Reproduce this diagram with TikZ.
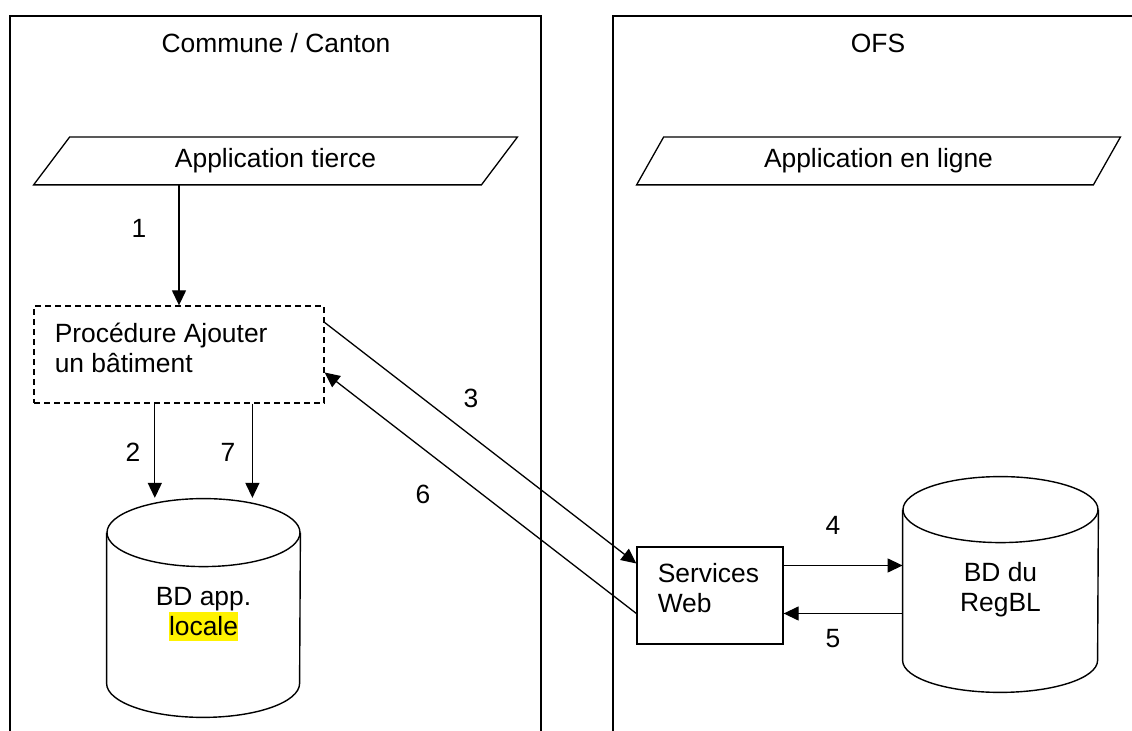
\documentclass[tikz,border=0pt]{standalone}
\usepackage{fontspec}
\setmainfont{Liberation Sans}
\usepackage{xcolor}
\usepackage{tikz}
\usetikzlibrary{arrows.meta,positioning,calc,shapes.geometric}

\newcommand{\hlyellow}[1]{{\setlength{\fboxsep}{0pt}\colorbox{yellow}{\rule[-2.8pt]{0pt}{14.5pt}#1}}}

\begin{document}
\begin{tikzpicture}[
    x = 0.5pt, y = -0.5pt,
    every node/.style = {font=\fontsize{13.2}{15}\selectfont, inner sep=0pt},
    panel/.style = {line width=1pt},
    app/.style = {rectangle, minimum height = 23.5pt},
    appline/.style = {line width=0.65pt},
    dashbox/.style = {
        rectangle, draw, dashed, dash pattern=on 3pt off 2pt,
        line width=0.65pt, minimum width=145pt, minimum height=48.5pt
      },
    webbox/.style = {rectangle, draw, line width=0.65pt, minimum width=73pt, minimum height=48.5pt},
    dbbody/.style = {rectangle},
    dbtop/.style = {ellipse, draw, line width=0.7pt, inner sep=0pt},
    dbline/.style = {line width=0.7pt},
    arr/.style = {line width=0.65pt, -{Triangle[length=7.5pt,width=7pt]}},
    lbl/.style = {align=left}
  ]
  \useasboundingbox (0,0) rectangle (1132,731);

  % les deux zones
  \draw[panel] (10,731) -- (10,16) -- (541,16) -- (541,731);
  \draw[panel] (613,731) -- (613,16) -- (1140,16);
  \node (commune) at (276,43) {Commune / Canton};
  \node (ofs) at (878,43) {OFS};

  % applications
  \node[app, minimum width=223.5pt] (apptierce) at (275.5,161) {Application tierce};
  \draw[appline] ([xshift=9pt]apptierce.north west) -- ([xshift=9pt]apptierce.north east)
    -- ([xshift=-9pt]apptierce.south east) -- ([xshift=-9pt]apptierce.south west) -- cycle;
  \node[app, minimum width=228pt] (appligne) at (878.5,161) {Application en ligne};
  \draw[appline] ([xshift=6.75pt]appligne.north west) -- ([xshift=6.75pt]appligne.north east)
    -- ([xshift=-6.75pt]appligne.south east) -- ([xshift=-6.75pt]appligne.south west) -- cycle;

  % procedure
  \node[dashbox] (proc) at (179,354.5) {};
  \node[lbl, anchor=west] (proctxt) at ($(proc.west)+(21,-7)$) {Procédure Ajouter\\un bâtiment};

  % base locale
  \node[dbbody, minimum width=96.5pt, minimum height=75pt] (localdb) at (203.5,608) {};
  \node[dbtop, minimum width=96.5pt, minimum height=34pt] (localtop) at (localdb.north) {};
  \draw[dbline] (localdb.north west) -- (localdb.south west)
    arc[start angle=180, end angle=360, x radius=48.25pt, y radius=17pt] -- (localdb.north east);
  \node[align=center] (localtxt) at ($(localdb.center)+(0,6)$) {BD app.\\\hlyellow{locale}};

  % services web
  \node[webbox] (web) at (710,595.5) {};
  \node[lbl, anchor=west] (webtxt) at ($(web.west)+(21,-7)$) {Services\\Web};

  % base RegBL
  \node[dbbody, minimum width=97.5pt, minimum height=75pt] (regbl) at (1000.5,585) {};
  \node[dbtop, minimum width=97.5pt, minimum height=33pt] (regbltop) at (regbl.north) {};
  \draw[dbline] (regbl.north west) -- (regbl.south west)
    arc[start angle=180, end angle=360, x radius=48.75pt, y radius=16pt] -- (regbl.north east);
  \node[align=center] (regbltxt) at ($(regbl.center)+(0,5)$) {BD du\\RegBL};

  % fleches
  \draw[arr] (proc.north |- apptierce.south) -- (proc.north);
  \coordinate (p2) at ($(proc.south west)!0.417!(proc.south east)$);
  \coordinate (p7) at ($(proc.south west)!0.752!(proc.south east)$);
  \draw[arr] (p2) -- (p2 |- localtop.north);
  \draw[arr] (p7) -- (p7 |- localtop.north);
  \draw[arr] ([yshift=16pt]proc.east) -- ([yshift=16pt]web.west);
  \draw[arr] ([yshift=-9pt]web.west) -- ([yshift=-9pt]proc.east);
  \coordinate (w4) at ([yshift=15pt]web.east);
  \coordinate (w5) at ([yshift=-9pt]web.east);
  \draw[arr] (w4) -- (w4 -| regbl.west);
  \draw[arr] (w5 -| regbl.west) -- (w5);

  % numeros
  \node (n1) at (139,228) {1};
  \node (n2) at (133,452) {2};
  \node (n7) at (228,452) {7};
  \node (n3) at (471,398) {3};
  \node (n6) at (423,494) {6};
  \node (n4) at (833,525) {4};
  \node (n5) at (833,639) {5};
\end{tikzpicture}
\end{document}
